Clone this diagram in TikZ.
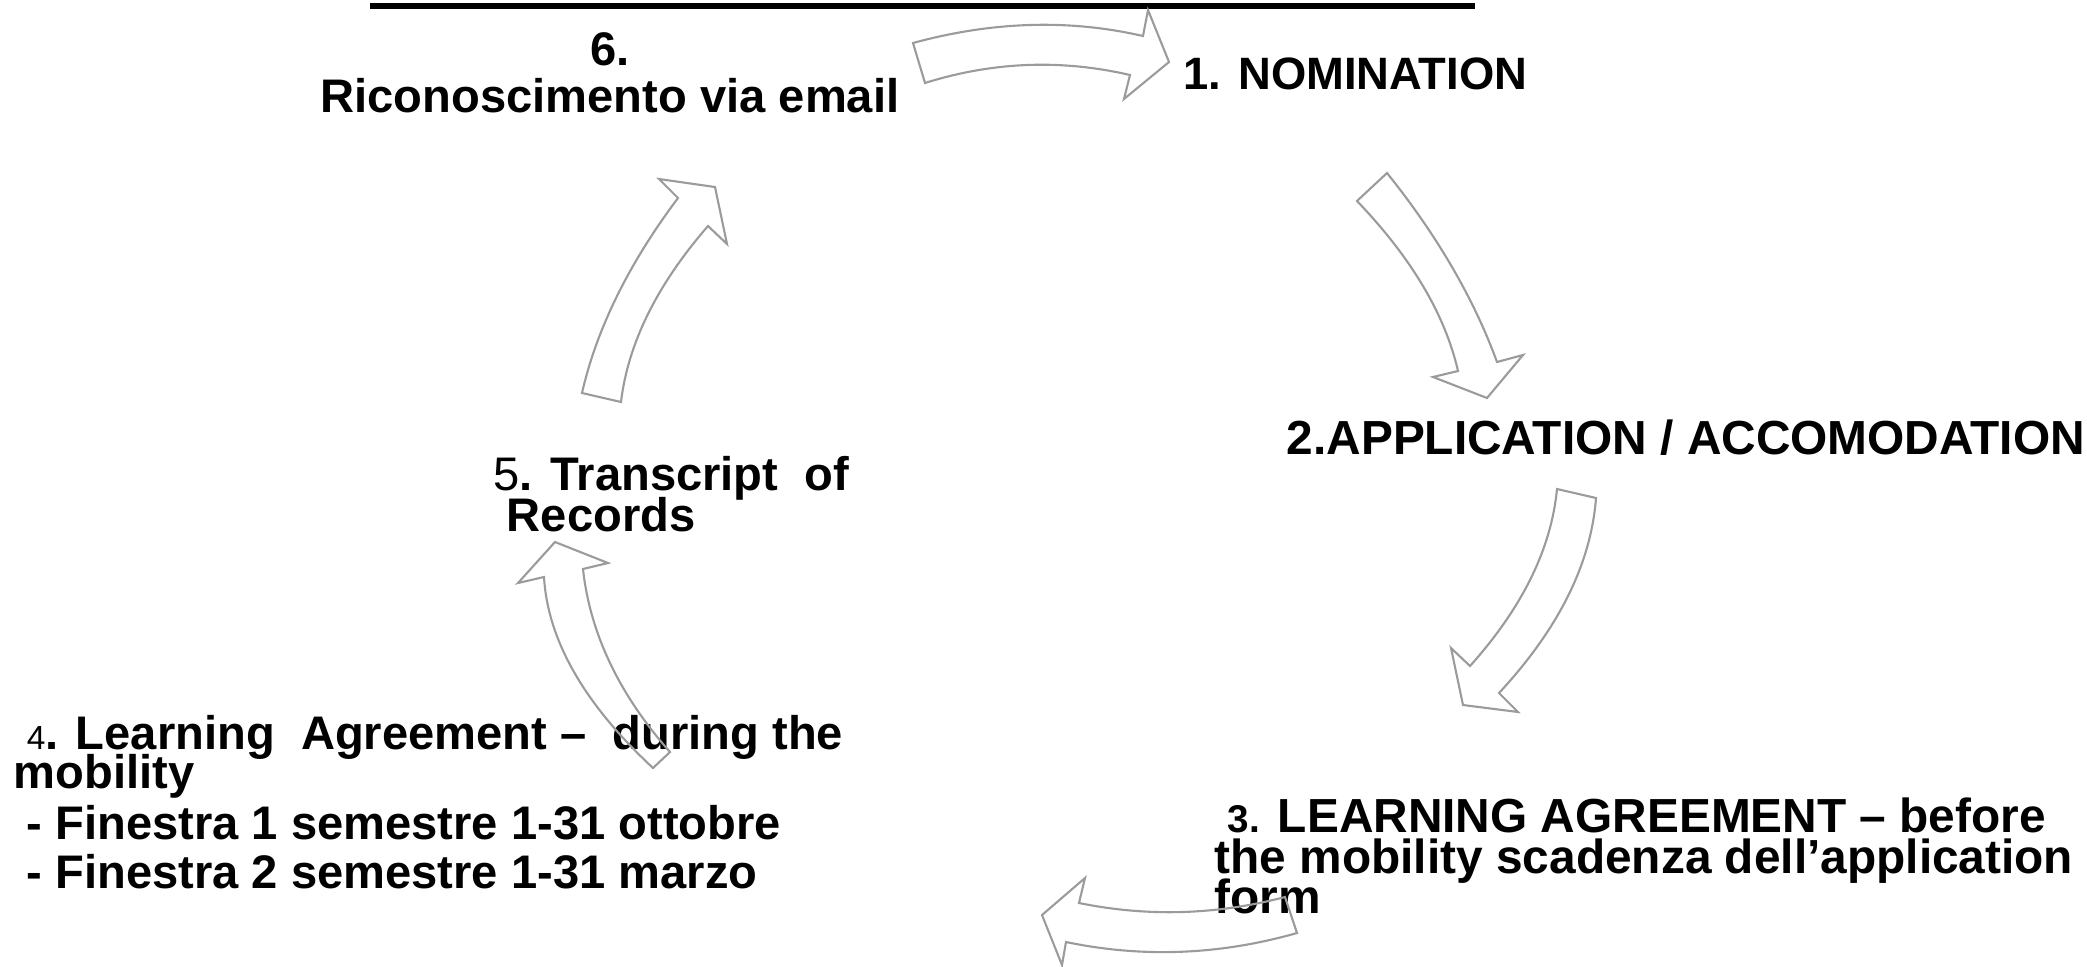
\documentclass[tikz,border=0pt]{standalone}
\usepackage{fontspec}
\setmainfont{Liberation Sans}

\definecolor{arrowgray}{RGB}{155,155,155}
\newcommand\tightlines{\lineskiplimit=-20pt\relax}

\tikzset{
  cyclearrow/.style={draw=arrowgray, line width=0.6pt, line join=miter},
  steptext/.style={inner sep=0pt, align=left, font=\fontsize{13.4}{11.6}\selectfont\bfseries\tightlines},
}

\begin{document}
\begin{tikzpicture}[x=0.01cm, y=-0.01cm]
\useasboundingbox (0,0) rectangle (2087,966);

\draw[line width=1.7pt] (370,6) -- (1475,6);

% steps of the cycle
\node[steptext, align=center, anchor=north, font=\fontsize{13.4}{13.4}\selectfont\bfseries] (recog) at (610,32) {6.\\Riconoscimento via email};
\node[steptext, anchor=base west, font=\fontsize{12.9}{13.7}\selectfont\bfseries] (nomin) at (1183,89) {1. NOMINATION};
\node[steptext, anchor=base west, font=\fontsize{13.6}{13.7}\selectfont\bfseries] (applic) at (1286,454) {2.APPLICATION / ACCOMODATION};
\node[steptext, anchor=north west, font=\fontsize{13.6}{11.6}\selectfont\bfseries\tightlines] (labefore) at (1214,797)
  {\ {\fontsize{11}{10}\selectfont 3.} LEARNING AGREEMENT – before\\the mobility scadenza dell’application\\form};
\node[steptext, anchor=north west, font=\fontsize{13.4}{11.1}\selectfont\bfseries\tightlines] (laduring) at (13,715)
  {\ {\fontsize{9.5}{10}\selectfont\mdseries 4}. Learning\ \ Agreement –\ \ during the\\mobility\\[3.2pt]
   \ - Finestra 1 semestre 1-31 ottobre\\[3pt]\ - Finestra 2 semestre 1-31 marzo};
\node[steptext, anchor=north west] (transcr) at (493,456) {{\mdseries 5}. Transcript\ \ of\\\ Records};

% block arrows
\draw[cyclearrow] (913,43) .. controls (992.3,21.3) and (1069,19) .. (1143,36) -- (1148,10) -- (1169,62) -- (1124,99)
  -- (1130,75) .. controls (1061,59) and (992.7,61.7) .. (925,83) -- cycle;
\draw[cyclearrow] (1387,173) .. controls (1437,235.3) and (1473.7,298.3) .. (1497,362) -- (1523,355) -- (1487,398) -- (1433,377)
  -- (1458,371) .. controls (1445,314.3) and (1411.3,257.7) .. (1357,201) -- cycle;
\draw[cyclearrow] (1596,498) .. controls (1591,563.7) and (1558.7,628.7) .. (1499,693) -- (1518,712) -- (1463,705) -- (1451,648)
  -- (1470,666) .. controls (1522.3,607.7) and (1551.3,548.7) .. (1557,489) -- cycle;
\draw[cyclearrow] (1285,897) .. controls (1216.3,915) and (1147.7,917) .. (1079,903) -- (1085,878) -- (1042,915) -- (1062,965)
  -- (1066,942) .. controls (1142.7,958) and (1219.7,955) .. (1297,933) -- cycle;
\draw[cyclearrow] (670,752) .. controls (619,694.3) and (590,633.3) .. (583,569) -- (608,563) -- (555,542) -- (518,583)
  -- (544,577) .. controls (547.7,640) and (584,703.7) .. (653,768) -- cycle;
\draw[cyclearrow] (582,393) .. controls (596.7,328.7) and (628.7,263.7) .. (678,198) -- (659,179) -- (715,187) -- (727,244)
  -- (708,226) .. controls (657,284.7) and (628,343.3) .. (621,402) -- cycle;
\end{tikzpicture}
\end{document}
